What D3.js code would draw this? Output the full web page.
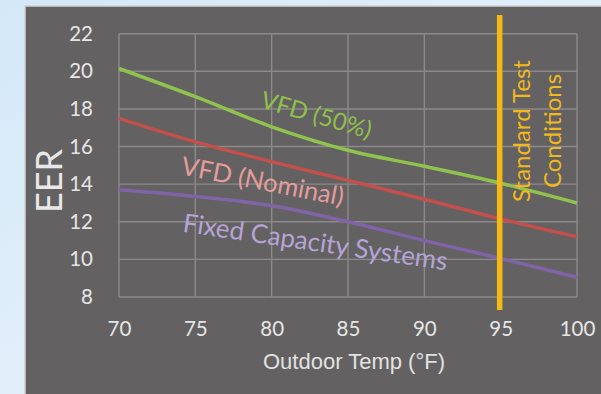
<!DOCTYPE html>
<html><head><meta charset="utf-8">
<script src="https://cdn.jsdelivr.net/npm/d3@7/dist/d3.min.js"></script>
<style>html,body{margin:0;padding:0;overflow:hidden;}</style>
</head><body>
<svg id="c" width="601" height="394"></svg>
<script>
const temps = [70, 75, 80, 85, 90, 95, 100];
const vfd50 = [20.15, 18.65, 17.05, 15.8, 14.95, 14.05, 13.0];
const vfdNominal = [17.5, 16.25, 15.2, 14.2, 13.2, 12.15, 11.2];
const fixedCap = [13.7, 13.35, 12.85, 12.0, 11.0, 10.05, 9.05];
const xTicks = [70, 75, 80, 85, 90, 95, 100];
const yTicks = [8, 10, 12, 14, 16, 18, 20, 22];
const standardTemp = 95;

const svg = d3.select("#c");
const defs = svg.append("defs");
const bg = defs.append("linearGradient").attr("id","bg").attr("x1","0").attr("y1","0").attr("x2","1").attr("y2","1");
bg.append("stop").attr("offset","0").attr("stop-color","#d4e8f8");
bg.append("stop").attr("offset","1").attr("stop-color","#eef6fd");
svg.append("rect").attr("width",601).attr("height",394).attr("fill","url(#bg)");

// panel
svg.append("rect").attr("x",25).attr("y",6).attr("width",590).attr("height",400)
  .attr("fill","#636161").attr("stroke","#d2d2d2").attr("stroke-width",1.5);

const x = d3.scaleLinear().domain([70,100]).range([119,577]);
const y = d3.scaleLinear().domain([8,22]).range([297,33.7]);

const font = "Lato, 'Open Sans', sans-serif";
// gridlines
const g = svg.append("g");
g.selectAll("line.h").data(yTicks).join("line")
  .attr("x1",x(70)).attr("x2",x(100)).attr("y1",d=>y(d)).attr("y2",d=>y(d))
  .attr("stroke","#8c8a8a").attr("stroke-width",1.4);
g.selectAll("line.v").data(xTicks).join("line")
  .attr("y1",y(8)).attr("y2",y(22)).attr("x1",d=>x(d)).attr("x2",d=>x(d))
  .attr("stroke","#8c8a8a").attr("stroke-width",1.4);

// axes (labels only)
const ya = svg.append("g").attr("transform",`translate(${x(70)},0)`)
  .call(d3.axisLeft(y).tickValues(yTicks).tickSize(0).tickPadding(26));
ya.select(".domain").remove();
ya.selectAll("text").attr("fill","#e6e6e6").style("font-family",font).style("font-size","20.5px");
const xa = svg.append("g").attr("transform",`translate(0,${y(8)})`)
  .call(d3.axisBottom(x).tickValues(xTicks).tickSize(0).tickPadding(0));
xa.select(".domain").remove();
xa.selectAll("text").attr("y",32).attr("dy","0.35em").attr("fill","#e6e6e6").style("font-family",font).style("font-size","20.5px");

// axis titles
svg.append("text").attr("transform","translate(62,181) rotate(-90)").attr("text-anchor","middle")
  .attr("fill","#e8e8e8").style("font-family",font).style("font-size","36px").text("EER");
svg.append("text").attr("x",354).attr("y",369).attr("text-anchor","middle")
  .attr("fill","#e2e2e2").style("font-family","'Liberation Sans', Arial, sans-serif").style("font-size","22px").text("Outdoor Temp (°F)");

// lines
const line = vals => d3.line().x((d,i)=>x(temps[i])).y(d=>y(d)).curve(d3.curveMonotoneX)(vals);
const series = [
  {vals: fixedCap, color: "#8064a7"},
  {vals: vfdNominal, color: "#c4504c"},
  {vals: vfd50, color: "#90c24e"}
];
svg.selectAll("path.s").data(series).join("path")
  .attr("d",d=>line(d.vals)).attr("fill","none").attr("stroke",d=>d.color).attr("stroke-width",3.5);

// standard test line
svg.append("line").attr("x1",x(standardTemp)-1).attr("x2",x(standardTemp)-1).attr("y1",15).attr("y2",310)
  .attr("stroke","#f5b914").attr("stroke-width",5.5);

// labels
const lab = (txt, cx, cy, ang, col, fs) => svg.append("text")
  .attr("transform",`translate(${cx},${cy}) rotate(${ang})`).attr("text-anchor","middle")
  .attr("fill",col).style("font-family",font).style("font-size",fs+"px").text(txt);
lab("VFD (50%)", 314, 123, 16, "#8fc04c", 24);
lab("VFD (Nominal)", 261, 190, 11, "#e49c9a", 25.5);
lab("Fixed Capacity Systems", 314, 251, 8.3, "#b5a4d6", 26);

const st = svg.append("text").attr("transform",`translate(530,131) rotate(-90)`).attr("text-anchor","middle")
  .attr("fill","#f2b81c").style("font-family",font).style("font-size","24px");
st.append("tspan").attr("x",0).attr("dy",0).text("Standard Test");
st.append("tspan").attr("x",0).attr("dy",31).text("Conditions");
</script>
</body></html>
